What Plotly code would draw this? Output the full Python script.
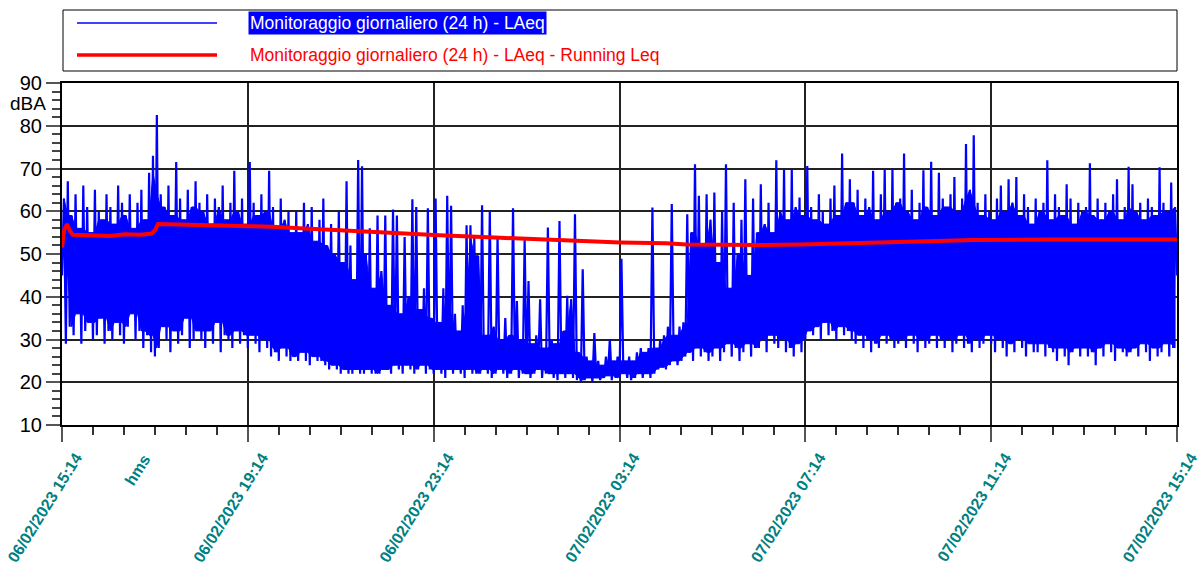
import plotly.graph_objects as go
import pandas as pd
import numpy as np

# ---------------- data ----------------
start = pd.Timestamp("2023-02-06 15:14")
end = pd.Timestamp("2023-02-07 15:14")
bin_minutes = 5  # each bin holds one trough and one peak of the LAeq trace

laeq_high = [
    63, 67, 59, 64, 56, 66, 61, 55, 65, 60, 58, 64,
    61, 57, 66, 62, 59, 64, 56, 62, 65, 58, 69, 73,
    82.5, 64, 61, 66, 59, 71.5, 63, 58, 65, 61, 67, 62,
    60, 64, 57, 63, 61, 66, 58, 62, 69.5, 60, 63, 57,
    71.5, 62, 59, 64, 60, 69.5, 61, 56, 63, 58, 60, 55,
    60, 55, 62, 57, 61, 53, 58, 63, 52, 57, 50, 60,
    48, 67, 52, 44, 72, 70.5, 50, 56, 42, 59, 46, 59,
    38, 60.4, 59, 36, 54, 40, 62.8, 61, 37, 42, 60.7, 35,
    63, 34, 42, 63.6, 61.3, 36, 32, 38, 56.7, 56.7, 54, 49.6,
    61.4, 31, 60.1, 33, 54.2, 30, 35, 31, 60.7, 39, 30, 53.5,
    43.7, 29, 31, 39.4, 28, 56.2, 30, 29, 57.7, 32, 40.2, 39.4,
    59.3, 27, 46.4, 26, 25, 31.5, 25, 24, 26, 30.1, 25, 26,
    48.9, 25, 26, 25, 27, 28, 27, 28, 60.9, 28, 30, 31,
    33, 61.7, 31, 33, 34, 59.3, 55, 71, 63.6, 52, 64, 58,
    64.4, 48, 60, 71, 42, 62, 50, 58, 67.5, 45, 63, 55,
    66.3, 57, 62, 55, 71.9, 60, 69.8, 58, 69.8, 61, 63.2, 59,
    70.6, 61, 58, 64, 60, 57, 63, 66, 59, 73.5, 62, 67.5,
    62, 65, 59, 63, 61, 69.5, 58, 64, 69.8, 60, 70, 62,
    63, 73.5, 60, 65, 58, 62, 69.6, 61, 71.6, 59, 69, 63,
    61, 64, 68, 60, 63, 75.7, 65, 77.8, 62, 59, 64, 60,
    58, 63, 66, 60, 67.5, 62, 68, 59, 64, 61, 57, 63,
    60, 62, 71.9, 58, 64, 61, 59, 66.3, 63, 57, 62, 60,
    61, 71.2, 59, 63, 58, 62, 60, 64, 67.5, 58, 61, 70.4,
    66.3, 60, 62, 58, 63, 61, 59, 70.3, 62, 60, 66.7, 61,
]

laeq_low = [
    45, 29, 33, 31, 36, 29, 32, 34, 30, 31, 35, 29,
    32, 30, 34, 31, 29, 33, 36, 30, 32, 28, 31, 27,
    26, 28, 33, 30, 27, 32, 29, 31, 35, 28, 30, 32,
    30, 28, 32, 29, 34, 27, 31, 30, 28, 32, 29, 31,
    28, 31, 29, 27, 30, 28, 26, 27, 25, 28, 26, 25,
    26, 25, 27, 25, 24, 26, 25, 25, 24, 23, 24, 23,
    22, 23, 22, 22, 23, 22, 22, 23, 22, 22, 22, 23,
    23, 22, 24, 23, 22, 24, 23, 22, 23, 24, 22, 23,
    22, 23, 22, 21, 23, 22, 23, 22, 21, 23, 22, 22,
    22, 23, 22, 21, 22, 23, 22, 21, 22, 23, 21, 22,
    22, 21, 22, 23, 21, 22, 22, 21, 20.5, 22, 21, 22,
    21, 20.5, 20, 20.5, 21, 20, 21, 20.5, 21, 21.5, 20.5, 21,
    21, 22, 21, 20.5, 21, 22, 21, 22, 21, 22, 23, 23.5,
    23, 24, 25, 24, 25, 26, 27, 25, 28, 26, 27, 25,
    26, 28, 25, 27, 29, 26, 28, 25, 27, 29, 26, 28,
    28, 30, 27, 31, 29, 28, 30, 27, 28, 26, 29, 27,
    30, 32, 31, 33, 30, 34, 31, 32, 30, 33, 31, 32,
    30, 29, 31, 28, 30, 27, 29, 28, 31, 29, 30, 28,
    29, 30, 28, 31, 29, 27, 30, 28, 29, 31, 28, 30,
    28, 30, 27, 29, 31, 28, 29, 27, 30, 28, 29, 31,
    29, 27, 30, 28, 26, 29, 27, 30, 28, 26, 29, 27,
    27, 29, 26, 28, 27, 25, 28, 26, 24, 27, 28, 26,
    28, 26, 27, 24, 28, 26, 29, 27, 25, 28, 27, 26,
    27, 28, 26, 29, 27, 25, 28, 26, 27, 29, 26, 28,
]
laeq_last = 45

running_minutes = [0, 2.6, 6.5, 10, 14, 36, 62, 81, 101, 116, 120, 124, 133,
                   178, 243, 272, 307, 359, 402, 436, 488, 566, 630, 721, 780,
                   807, 901, 953, 1031, 1117, 1177, 1276, 1440]
running_leq = [51.5, 55.5, 57.0, 55.5, 54.5, 54.3, 54.2, 54.6, 54.5, 54.8, 55.5, 57.0, 57.0,
               56.8, 56.5, 56.4, 56.0, 55.5, 55.2, 54.8, 54.4, 53.8, 53.3, 52.7, 52.5,
               52.2, 52.1, 52.2, 52.6, 53.0, 53.3, 53.4, 53.4]

legend_labels = ["Monitoraggio giornaliero (24 h) - LAeq",
                 "Monitoraggio giornaliero (24 h) - LAeq - Running Leq"]

# ---------------- build traces ----------------
x_blue, y_blue = [], []
for i, (lo, hi) in enumerate(zip(laeq_low, laeq_high)):
    x_blue.append(start + pd.Timedelta(minutes=bin_minutes * i))
    y_blue.append(lo)
    x_blue.append(start + pd.Timedelta(minutes=bin_minutes * i + bin_minutes / 2))
    y_blue.append(hi)
x_blue.append(end)
y_blue.append(laeq_last)

# dense core of the trace: where neighbouring oscillations overlap on screen
hi_arr = np.array(laeq_high, dtype=float)
lo_arr = np.array(laeq_low, dtype=float)
hp = np.pad(hi_arr, 1, mode="edge")
lp = np.pad(lo_arr, 1, mode="edge")
core_top = np.minimum(np.minimum(hp[:-2], hp[1:-1]), hp[2:])
core_bot = np.maximum(np.maximum(lp[:-2], lp[1:-1]), lp[2:])
core_top = np.maximum(core_top, core_bot)
x_core = [start + pd.Timedelta(minutes=bin_minutes * i + bin_minutes / 2) for i in range(len(hi_arr))]

x_red = [start + pd.Timedelta(minutes=m) for m in running_minutes]

fig = go.Figure()
fig.add_trace(go.Scatter(x=x_core + x_core[::-1], y=list(core_top) + list(core_bot[::-1]),
                         mode="lines", fill="toself", fillcolor="#0000FF",
                         line=dict(color="#0000FF", width=1), hoverinfo="skip",
                         showlegend=False))
fig.add_trace(go.Scatter(x=x_blue, y=y_blue, mode="lines",
                         line=dict(color="#0000FF", width=2.2),
                         name=legend_labels[0], showlegend=False))
fig.add_trace(go.Scatter(x=x_red, y=running_leq, mode="lines",
                         line=dict(color="#FF0000", width=4),
                         name=legend_labels[1], showlegend=False))

sans = "Liberation Sans, Arial, sans-serif"
teal = "#008080"

fig.update_layout(
    width=1203, height=578,
    margin=dict(l=62, r=26, t=83, b=153, autoexpand=False),
    paper_bgcolor="white", plot_bgcolor="white",
    showlegend=False,
)

fig.update_xaxes(
    type="date",
    range=[start, end],
    tick0=start, dtick=4 * 3600 * 1000,
    tickformat="%d/%m/%Y %H:%M",
    tickangle=-58,
    tickfont=dict(family=sans, size=16, color=teal, weight="bold"),
    ticks="outside", ticklen=15, tickcolor="#555", tickwidth=1.5,
    ticklabelshift=14,
    ticklabeloverflow="allow",
    automargin=False,
    minor=dict(dtick=40 * 60 * 1000, tick0=start, ticks="outside", ticklen=8,
               tickcolor="#333", tickwidth=1.5, showgrid=False),
    showgrid=True, gridcolor="#222", gridwidth=1.5,
    showline=True, linecolor="black", linewidth=2, mirror=True,
    zeroline=False,
)
fig.update_yaxes(
    range=[10, 90], dtick=10, tick0=10,
    tickfont=dict(family=sans, size=20, color="black"),
    ticks="outside", ticklen=14, tickcolor="#555", tickwidth=1.5,
    automargin=False,
    minor=dict(dtick=2, ticks="outside", ticklen=8, tickcolor="#444", tickwidth=1.5, showgrid=False),
    showgrid=True, gridcolor="#222", gridwidth=1.5,
    showline=True, linecolor="black", linewidth=2, mirror=True,
    zeroline=False,
)

# ---------------- legend box (drawn) ----------------
def px_to_paper_x(px):
    return (px - 62) / 1115.0

def py_to_paper_y(py):
    return (425 - py) / 342.0

fig.add_shape(type="rect", xref="paper", yref="paper",
              x0=px_to_paper_x(63), x1=px_to_paper_x(1177),
              y0=py_to_paper_y(71), y1=py_to_paper_y(10),
              line=dict(color="black", width=1), fillcolor="white")
fig.add_shape(type="line", xref="paper", yref="paper",
              x0=px_to_paper_x(77), x1=px_to_paper_x(217),
              y0=py_to_paper_y(23), y1=py_to_paper_y(23),
              line=dict(color="#0000FF", width=1.5))
fig.add_shape(type="line", xref="paper", yref="paper",
              x0=px_to_paper_x(77), x1=px_to_paper_x(217),
              y0=py_to_paper_y(55), y1=py_to_paper_y(55),
              line=dict(color="#FF0000", width=3.5))
fig.add_annotation(xref="paper", yref="paper", x=px_to_paper_x(248), y=py_to_paper_y(23),
                   text=legend_labels[0], showarrow=False, xanchor="left", yanchor="middle",
                   font=dict(family=sans, size=17.5, color="white"),
                   bgcolor="#0000FF", borderpad=1)
fig.add_annotation(xref="paper", yref="paper", x=px_to_paper_x(248), y=py_to_paper_y(55),
                   text=legend_labels[1], showarrow=False, xanchor="left", yanchor="middle",
                   font=dict(family=sans, size=17.5, color="#FF0000"))

# axis unit and odd "hms" label
fig.add_annotation(xref="paper", yref="paper", x=px_to_paper_x(48), y=py_to_paper_y(103),
                   text="dBA", showarrow=False, xanchor="right", yanchor="middle",
                   font=dict(family=sans, size=19, color="black"))
fig.add_annotation(xref="paper", yref="paper", x=px_to_paper_x(137), y=py_to_paper_y(470),
                   text="hms", showarrow=False, textangle=-58, xanchor="center", yanchor="middle",
                   font=dict(family=sans, size=16, color=teal, weight="bold"))

fig.write_html("out.html")
